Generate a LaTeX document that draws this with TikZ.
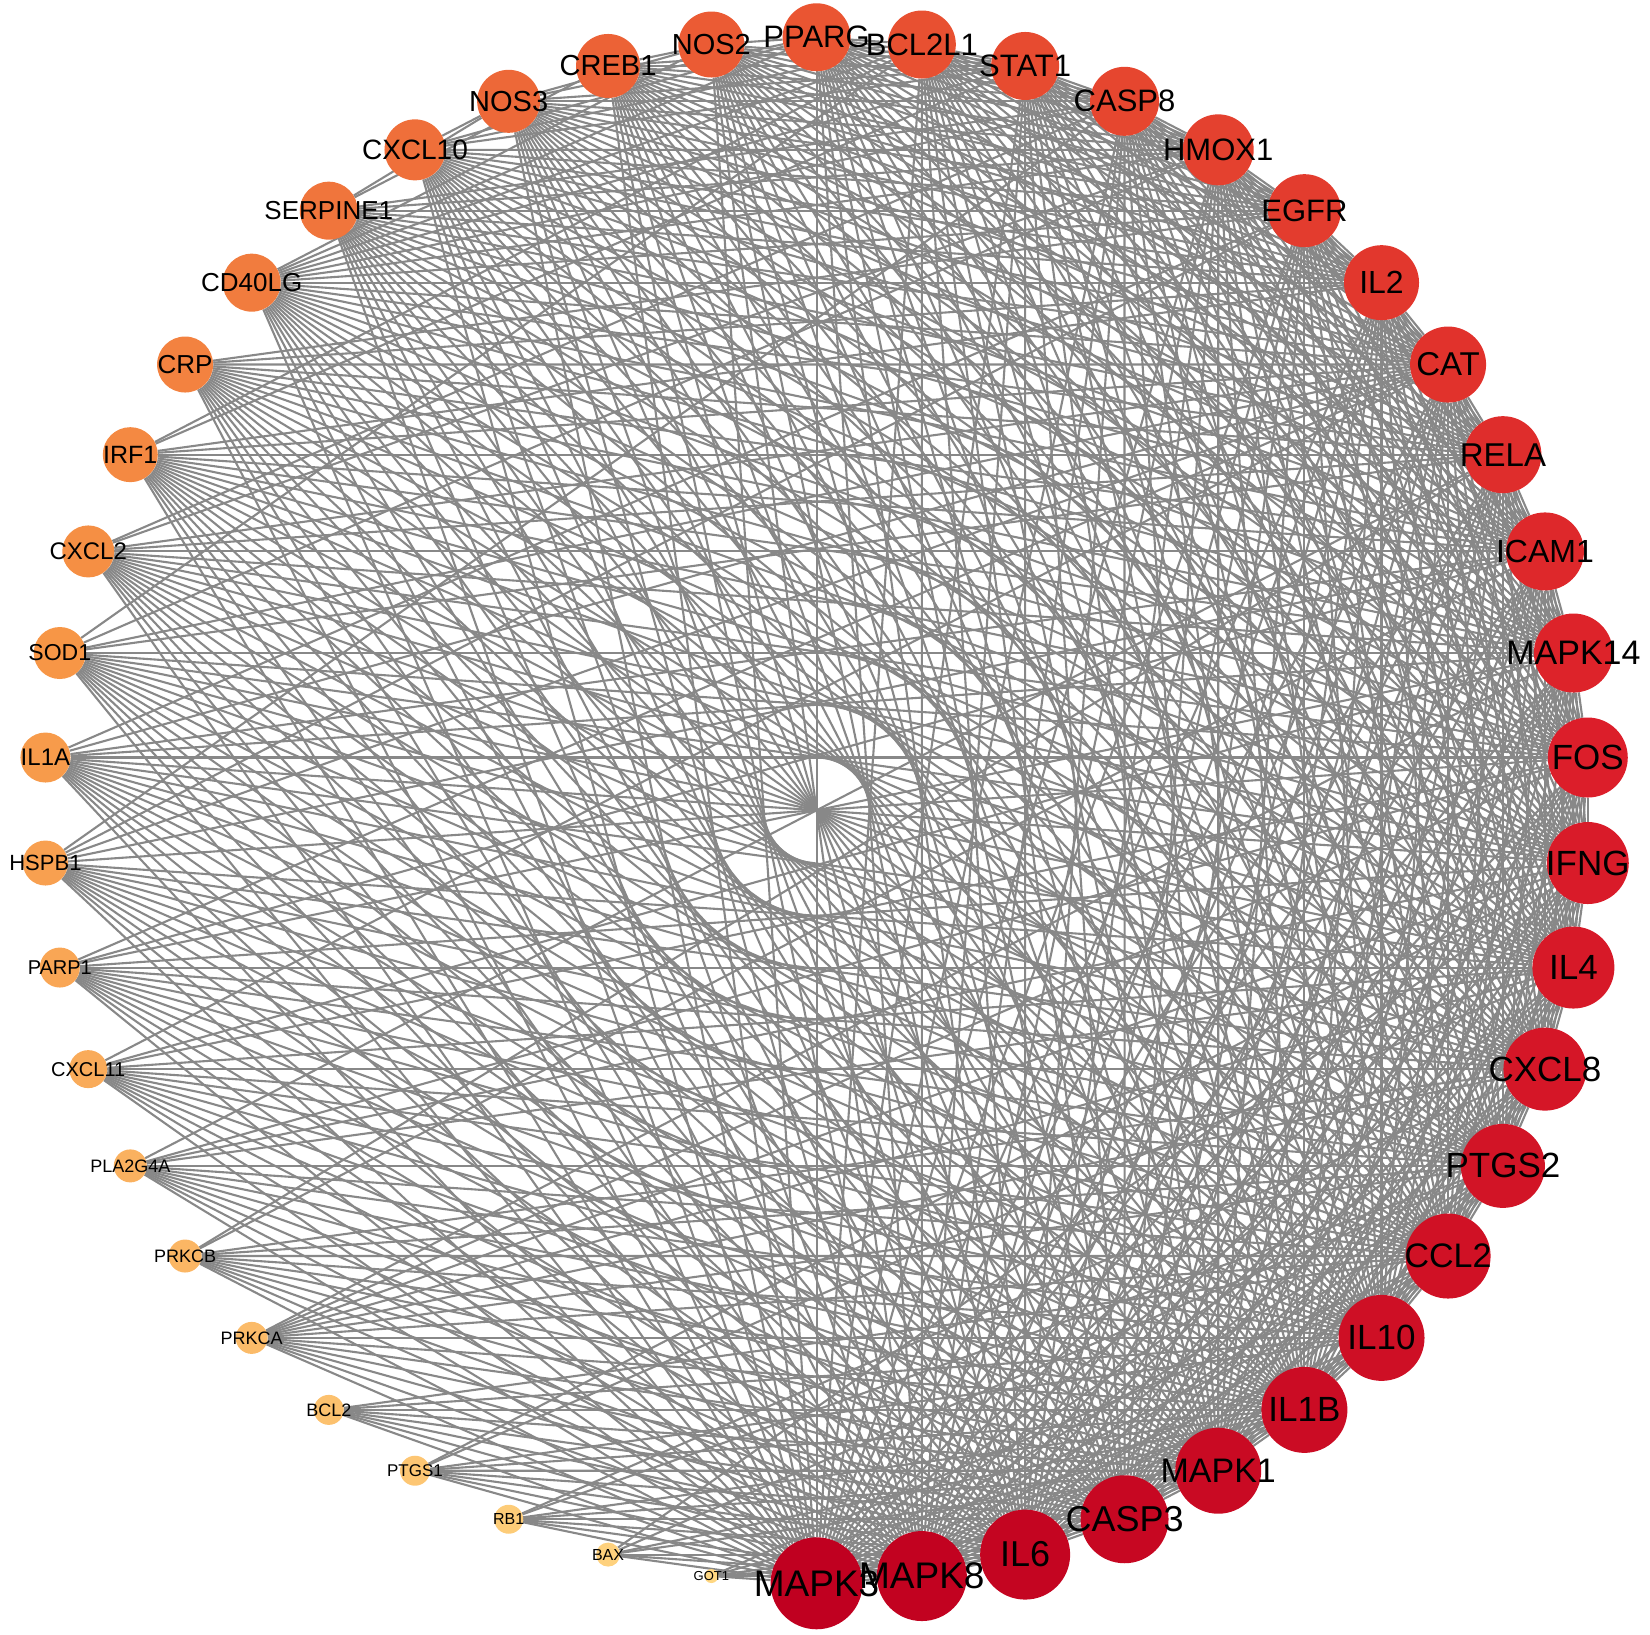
\documentclass[tikz,border=0pt]{standalone}
\usepackage{fontspec}
\setmainfont{Liberation Sans}
\usetikzlibrary{backgrounds}

\definecolor{linkgray}{RGB}{136,136,136}

\begin{document}
\begin{tikzpicture}[x=1pt, y=1pt,
    gene/.style={circle, inner sep=0pt, text=black},
    link/.style={draw=linkgray, line width=2.1pt}]

    \useasboundingbox (0,0) rectangle (1650,1635);
    \coordinate (hub) at (816.6,824.7);

    % Nodes, ordered by degree: MAPK3 at the bottom, then counter-clockwise
    \foreach \gname/\sz/\fs [count=\idx from 0] in {
        MAPK3/92/37, MAPK8/90/37, IL6/90/36, CASP3/88/36, MAPK1/86/34,
        IL1B/86/35, IL10/86/35, CCL2/85/34, PTGS2/84/35, CXCL8/83/35,
        IL4/82/35, IFNG/82/35, FOS/80/35, MAPK14/79/34, ICAM1/78/32,
        RELA/77/33, CAT/76/33, IL2/75/32, EGFR/73/31, HMOX1/71/31,
        CASP8/69/31, STAT1/68/31, BCL2L1/68/31, PPARG/68/31, NOS2/66/29,
        CREB1/64/29, NOS3/63/29, CXCL10/61/28, SERPINE1/58/26, CD40LG/58/26,
        CRP/56/26, IRF1/55/25, CXCL2/52/24, SOD1/52/23, IL1A/50/24,
        HSPB1/45/22, PARP1/40/20, CXCL11/38/20, PLA2G4A/33/18, PRKCB/33/18,
        PRKCA/32/18, BCL2/30/18, PTGS1/30/17, RB1/29/16, BAX/24/16, GOT1/14/13} {
        \pgfmathsetmacro\ang{270+360*\idx/46}
        % colour runs from dark red (high degree) to pale orange (low degree)
        \pgfmathtruncatemacro\colR{\idx<12 ? 192+28*\idx/12 : (\idx<23 ? 220+14*(\idx-12)/11 : (\idx<33 ? 234+13*(\idx-23)/10 : 247+8*(\idx-33)/12))}
        \pgfmathtruncatemacro\colG{\idx<12 ? 30*\idx/12 : (\idx<23 ? 30+55*(\idx-12)/11 : (\idx<33 ? 85+65*(\idx-23)/10 : 150+65*(\idx-33)/12))}
        \pgfmathtruncatemacro\colB{\idx<12 ? 32+10*\idx/12 : (\idx<23 ? 42+8*(\idx-12)/11 : (\idx<33 ? 50+20*(\idx-23)/10 : 70+60*(\idx-33)/12))}
        \definecolor{genefill}{RGB}{\colR,\colG,\colB}
        \node[gene, fill=genefill, minimum size=\sz pt, alias=g\idx,
              font=\fontsize{\fs pt}{\fs pt}\selectfont]
            (\gname) at ([shift={(\ang:773)}]hub) {\makebox[0pt]{\gname}};
    }

    % Links
    \begin{scope}[on background layer]
        \foreach \i in {0,...,44} {
            \pgfmathtruncatemacro\jfirst{\i+1}
            \foreach \j in {\jfirst,...,45} {
                \pgfmathtruncatemacro\keep{(\i+\j+mod(\i*\j+3*\i+5*\j,11))<=55 ? 1 : 0}
                \ifnum\keep=1 \draw[link] (g\i) -- (g\j); \fi
            }
        }
    \end{scope}
\end{tikzpicture}
\end{document}
